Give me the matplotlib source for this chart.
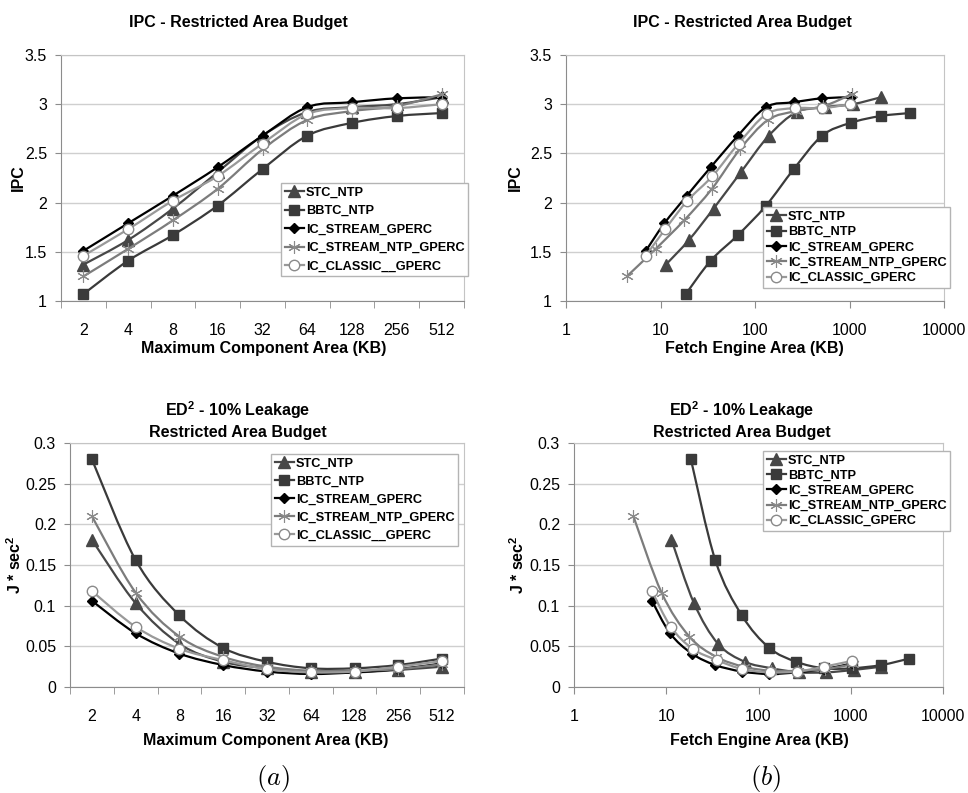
import numpy as np
import matplotlib
matplotlib.use("Agg")
import matplotlib.pyplot as plt
from matplotlib.path import Path
from matplotlib.patches import PathPatch
from matplotlib.lines import Line2D

plt.rcParams['font.family'] = ['Liberation Sans', 'DejaVu Sans']
plt.rcParams['mathtext.fontset'] = 'custom'
plt.rcParams['mathtext.rm'] = 'Liberation Sans'
plt.rcParams['mathtext.bf'] = 'Liberation Sans:bold'

# ---- data ----
series = ['STC_NTP', 'BBTC_NTP', 'IC_STREAM_GPERC', 'IC_STREAM_NTP_GPERC', 'IC_CLASSIC_GPERC']
labels_left = ['STC_NTP', 'BBTC_NTP', 'IC_STREAM_GPERC', 'IC_STREAM_NTP_GPERC', 'IC_CLASSIC__GPERC']
labels_right = ['STC_NTP', 'BBTC_NTP', 'IC_STREAM_GPERC', 'IC_STREAM_NTP_GPERC', 'IC_CLASSIC_GPERC']

comp_area = ['2', '4', '8', '16', '32', '64', '128', '256', '512']

# fetch engine area (KB) for each configuration
stc_area = [11.4, 20, 36.5, 71, 140, 275, 545, 1080, 2140]
bbtc_area = [18.5, 34, 66, 131, 257, 513, 1025, 2140, 4330]
ics_area = [7, 11, 19, 34, 66, 131, 258, 515, 1030]
icsn_area = [4.4, 8.9, 17.8, 35, 69, 137, 270, 530, 1050]
icc_area = [7, 11.2, 19.3, 35.5, 67, 133, 262, 515, 1020]

# IPC
stc_ipc = [1.37, 1.62, 1.94, 2.31, 2.68, 2.92, 2.97, 3.0, 3.07]
bbtc_ipc = [1.07, 1.41, 1.67, 1.97, 2.34, 2.68, 2.81, 2.88, 2.91]
ics_ipc = [1.51, 1.79, 2.07, 2.36, 2.68, 2.97, 3.02, 3.06, 3.07]
icsn_ipc = [1.25, 1.53, 1.82, 2.14, 2.54, 2.84, 2.93, 2.98, 3.10]
icc_ipc = [1.46, 1.73, 2.02, 2.27, 2.60, 2.90, 2.96, 2.96, 3.0]

# ED^2 (J * sec^2)
stc_ed2 = [0.181, 0.103, 0.053, 0.031, 0.023, 0.018, 0.018, 0.021, 0.025]
bbtc_ed2 = [0.280, 0.156, 0.088, 0.048, 0.031, 0.023, 0.023, 0.027, 0.035]
ics_ed2 = [0.106, 0.066, 0.041, 0.027, 0.019, 0.016, 0.018, 0.022, 0.029]
icsn_ed2 = [0.210, 0.116, 0.062, 0.037, 0.025, 0.020, 0.020, 0.022, 0.028]
icc_ed2 = [0.118, 0.074, 0.047, 0.033, 0.022, 0.018, 0.019, 0.025, 0.032]

areas = [stc_area, bbtc_area, ics_area, icsn_area, icc_area]
ipcs = [stc_ipc, bbtc_ipc, ics_ipc, icsn_ipc, icc_ipc]
ed2s = [stc_ed2, bbtc_ed2, ics_ed2, icsn_ed2, icc_ed2]

# ---- styles ----
colors = ['#474747', '#3a3a3a', '#000000', '#7c7c7c', '#999999']
markers = ['^', 's', 'D', (6, 2, 0), 'o']
msizes = [8, 7.5, 5.5, 9, 7.5]
mfcs = ['#474747', '#3a3a3a', '#000000', '#7c7c7c', 'white']
mecs = ['#474747', '#3a3a3a', '#000000', '#8a8a8a', '#8a8a8a']
mews = [1, 1, 1, 0.8, 1]

W, H = 968, 793
fig = plt.figure(figsize=(W / 100, H / 100), dpi=100)


def box(l, t, r, b):
    return [l / W, 1 - b / H, (r - l) / W, (b - t) / H]


def px(x, y):
    return x / W, 1 - y / H


def smooth_path(xs, ys, logx=False):
    # excel style smoothed line (cubic bezier through the points)
    u = np.log10(xs) if logx else np.asarray(xs, float)
    v = np.asarray(ys, float)
    n = len(u)
    verts = [(u[0], v[0])]
    codes = [Path.MOVETO]
    for i in range(n - 1):
        i0 = max(i - 1, 0)
        i3 = min(i + 2, n - 1)
        verts.append((u[i] + (u[i + 1] - u[i0]) / 6, v[i] + (v[i + 1] - v[i0]) / 6))
        verts.append((u[i + 1] - (u[i3] - u[i]) / 6, v[i + 1] - (v[i3] - v[i]) / 6))
        verts.append((u[i + 1], v[i + 1]))
        codes += [Path.CURVE4] * 3
    verts = np.array(verts)
    if logx:
        verts[:, 0] = 10 ** verts[:, 0]
    return Path(verts, codes)


def style_axes(ax, ylim, yticks, ylabels, logx):
    ax.set_ylim(*ylim)
    ax.set_yticks(yticks)
    ax.set_yticklabels(ylabels)
    ax.yaxis.grid(True, color='#cfcfcf', lw=1)
    ax.set_axisbelow(True)
    for s in ['top', 'right']:
        ax.spines[s].set_color('#c4c4c4')
    ax.spines['left'].set_color('#8c8c8c')
    ax.spines['bottom'].set_color('#8c8c8c')
    ax.tick_params(axis='y', length=4, color='#8c8c8c', labelsize=11.5, pad=6)
    if logx:
        ax.set_xscale('log')
        ax.set_xlim(1, 10000)
        ax.set_xticks([1, 10, 100, 1000, 10000])
        ax.set_xticklabels(['1', '10', '100', '1000', '10000'])
        ax.minorticks_off()
        ax.tick_params(axis='x', length=5, color='#8c8c8c', labelsize=11.5, pad=11)
    else:
        ax.set_xlim(-0.5, 8.5)
        ax.set_xticks(range(9))
        ax.set_xticklabels(comp_area)
        ax.set_xticks(np.arange(-0.5, 9, 1), minor=True)
        ax.tick_params(axis='x', which='major', length=0, labelsize=11.5, pad=16)
        ax.tick_params(axis='x', which='minor', length=5, color='#8c8c8c')


def draw(ax, xs_list, ys_list, logx, labels, leg_box, spacing):
    for i in range(5):
        xs = xs_list[i]
        ys = ys_list[i]
        ax.add_patch(PathPatch(smooth_path(xs, ys, logx), fill=False,
                               edgecolor=colors[i], lw=1.6, zorder=10 + 2 * i))
        ax.plot(xs, ys, ls='none', marker=markers[i], ms=msizes[i], mfc=mfcs[i],
                mec=mecs[i], mew=mews[i], zorder=11 + 2 * i)
    handles = [Line2D([0], [0], color=colors[i], lw=1.6, marker=markers[i],
                      ms=msizes[i], mfc=mfcs[i], mec=mecs[i], mew=mews[i]) for i in range(5)]
    leg = fig.legend(handles, labels, loc='upper left', bbox_to_anchor=px(*leg_box),
                     prop={'weight': 'bold', 'size': 9.2}, frameon=True, fancybox=False,
                     edgecolor='#b4b4b4', framealpha=1, borderpad=0.3,
                     handlelength=1.5, handletextpad=0.15, labelspacing=spacing,
                     borderaxespad=0)
    leg.get_frame().set_linewidth(1)
    leg.set_zorder(30)


title_kw = dict(ha='center', va='center', fontsize=11.5, fontweight='bold')

# top left
ax1 = fig.add_axes(box(61, 55, 464, 301))
draw(ax1, [list(range(9))] * 5, ipcs, False, labels_left, (281, 183), 0.5)
style_axes(ax1, (1, 3.5), [1, 1.5, 2, 2.5, 3, 3.5], ['1', '1.5', '2', '2.5', '3', '3.5'], False)
fig.text(*px(238, 22), 'IPC - Restricted Area Budget', **title_kw)
fig.text(*px(18, 178), 'IPC', rotation=90, **title_kw)
fig.text(*px(264, 349), 'Maximum Component Area (KB)', **title_kw)

# top right
ax2 = fig.add_axes(box(566, 55, 944, 301))
draw(ax2, areas, ipcs, True, labels_right, (763, 207), 0.26)
style_axes(ax2, (1, 3.5), [1, 1.5, 2, 2.5, 3, 3.5], ['1', '1.5', '2', '2.5', '3', '3.5'], True)
fig.text(*px(742, 22), 'IPC - Restricted Area Budget', **title_kw)
fig.text(*px(515, 178), 'IPC', rotation=90, **title_kw)
fig.text(*px(754, 349), 'Fetch Engine Area (KB)', **title_kw)

ed_ticks = [0, 0.05, 0.1, 0.15, 0.2, 0.25, 0.3]
ed_labels = ['0', '0.05', '0.1', '0.15', '0.2', '0.25', '0.3']

# bottom left
ax3 = fig.add_axes(box(70, 443, 464, 687))
draw(ax3, [list(range(9))] * 5, ed2s, False, labels_left, (271, 454), 0.47)
style_axes(ax3, (0, 0.3), ed_ticks, ed_labels, False)
fig.text(*px(238, 410), r'ED$^\mathbf{2}$ - 10% Leakage', **title_kw)
fig.text(*px(238, 433), 'Restricted Area Budget', **title_kw)
fig.text(*px(15, 565), r'J * sec$^\mathbf{2}$', rotation=90, **title_kw)
fig.text(*px(266, 741), 'Maximum Component Area (KB)', **title_kw)

# bottom right
ax4 = fig.add_axes(box(574, 443, 943, 687))
draw(ax4, areas, ed2s, True, labels_right, (763, 451), 0.24)
style_axes(ax4, (0, 0.3), ed_ticks, ed_labels, True)
fig.text(*px(742, 410), r'ED$^\mathbf{2}$ - 10% Leakage', **title_kw)
fig.text(*px(742, 433), 'Restricted Area Budget', **title_kw)
fig.text(*px(518, 565), r'J * sec$^\mathbf{2}$', rotation=90, **title_kw)
fig.text(*px(759, 741), 'Fetch Engine Area (KB)', **title_kw)

fig.text(*px(273, 778), r'$(a)$', ha='center', va='center', fontsize=19, math_fontfamily='cm')
fig.text(*px(766, 778), r'$(b)$', ha='center', va='center', fontsize=19, math_fontfamily='cm')

fig.savefig('out.png', dpi=100)
